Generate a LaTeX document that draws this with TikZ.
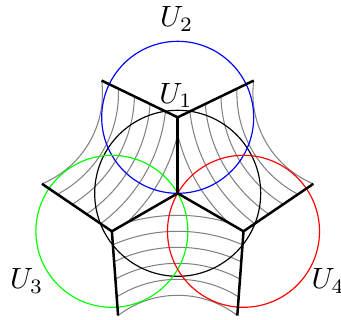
\documentclass[tikz,border=0pt]{standalone}
\usepackage{amsmath}
\begin{document}
\begin{tikzpicture}[x=0.012cm,y=0.012cm,
  br/.style={draw,line width=0.85pt},
  fib/.style={draw=gray,line width=0.35pt},
  lab/.style={inner sep=0pt}]
  \useasboundingbox (-177.7,-126.7) rectangle (163.3,193.3);
  \coordinate (c) at (0,0);
  \foreach \n/\a in {t/90,l/210,r/330}{
    \coordinate (\n) at (\a:76);
    \coordinate (\n1) at (\a+34:136);
    \coordinate (\n2) at (\a-34:136);
  }
  % fibres between the legs
  \foreach \a in {30,150,270}{
    \begin{scope}
      \clip (c) -- (\a-60:76) -- (\a-26:136) -- (\a:200) -- (\a+26:136) -- (\a+60:76) -- cycle;
      \foreach \rr in {98,114,...,178} \draw[fib] (\a:200) circle (\rr);
    \end{scope}
  }
  % the open sets
  \draw (c) circle (83);
  \draw[blue] (t) circle (76);
  \draw[green] (l) circle (76);
  \draw[red] (r) circle (76);
  % the graph
  \foreach \n in {t,l,r}{\draw[br] (\n1) -- (\n) -- (\n2); \draw[br] (c) -- (\n);}
  \node[lab] (u1) at (-1.7,97.8) {$U_1$};
  \node[lab] (u2) at (-1,174.4) {$U_2$};
  \node[lab] (u3) at (-151,-87.5) {$U_3$};
  \node[lab] (u4) at (150.6,-87.5) {$U_4$};
\end{tikzpicture}
\end{document}
